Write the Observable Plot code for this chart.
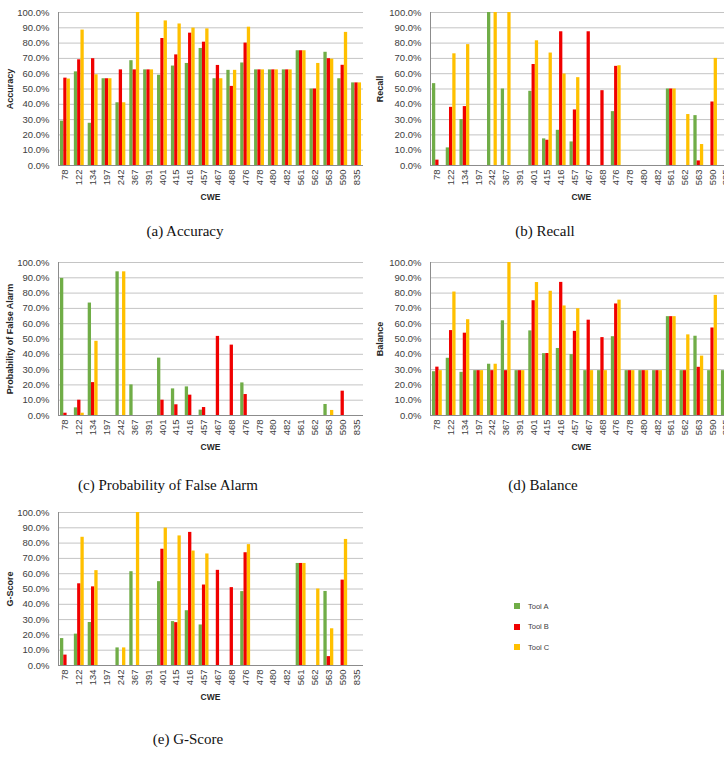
<!DOCTYPE html>
<html>
<head>
<meta charset="utf-8">
<script src="https://cdn.jsdelivr.net/npm/d3@7"></script>
<script src="https://cdn.jsdelivr.net/npm/@observablehq/plot@0.6"></script>
<style>
  body { margin: 0; background: #fff; }
  #fig { position: relative; width: 724px; height: 771px; overflow: hidden; background: #fff;
         font-family: "Liberation Sans", Arial, sans-serif; color: #404040; }
  .panel { position: absolute; }
  .panel svg { max-width: none !important; }
  .ytitle { position: absolute; font-weight: bold; font-size: 9px; white-space: nowrap; color: #262626;
            transform: translate(-50%, -50%) rotate(-90deg); }
  .xtitle { position: absolute; font-weight: bold; font-size: 8.5px; white-space: nowrap; color: #262626;
            transform: translate(-50%, -50%); }
  .caption { position: absolute; font-family: "Liberation Serif", "Times New Roman", serif; font-size: 15px;
             line-height: 15px; white-space: nowrap; color: #111; transform: translateX(-50%); }
  .legend { position: absolute; left: 514px; top: 596px; font-size: 7.5px; color: #404040; }
  .legend div { display: flex; align-items: center; height: 20.5px; }
  .legend span.sw { display: inline-block; width: 6px; height: 6px; margin-right: 8px; }
</style>
</head>
<body>
<div id="fig"></div>
<script>
// CWE categories on the x axis
const cwe = ["78","122","134","197","242","367","391","401","415","416","457","467","468","476","478","480","482","561","562","563","590","835"];
const tools = ["Tool A", "Tool B", "Tool C"];
const toolColors = ["#70AD47", "#F00000", "#FFC000"];
const yTicks = [0, 10, 20, 30, 40, 50, 60, 70, 80, 90, 100];

// Accuracy (%)
const accuracyA = [29.0, 61.2, 27.6, 56.7, 41.0, 68.5, 62.5, 59.0, 65.0, 66.7, 76.5, 56.7, 62.2, 67.0, 62.5, 62.5, 62.5, 75.0, 50.0, 74.0, 56.7, 54.0];
const accuracyB = [57.1, 69.1, 69.8, 56.7, 62.5, 62.5, 62.5, 83.0, 72.3, 86.5, 80.6, 65.4, 51.7, 80.0, 62.5, 62.5, 62.5, 75.0, 50.0, 69.8, 65.5, 54.0];
const accuracyC = [56.5, 88.5, 59.3, 56.7, 41.0, 100, 62.5, 94.5, 92.5, 89.8, 89.3, 56.7, 62.2, 90.4, 62.5, 62.5, 62.5, 75.0, 66.7, 69.5, 87.0, 54.0];

// Recall (%)
const recallA = [53.5, 11.5, 30.0, 0, 100, 50.0, 0, 48.5, 17.4, 23.0, 15.4, 0, 0, 35.2, 0, 0, 0, 50.0, 0, 32.6, 0, 0];
const recallB = [3.5, 38.0, 38.5, 0, 0, 0, 0, 66.0, 16.5, 87.4, 36.3, 87.4, 48.9, 64.8, 0, 0, 0, 50.0, 0, 3.0, 41.5, 0];
const recallC = [0, 73.0, 79.0, 0, 100, 100, 0, 81.5, 73.5, 59.8, 57.4, 0, 0, 65.2, 0, 0, 0, 50.0, 33.3, 13.7, 70.0, 0];

// Probability of false alarm (%)
const pfA = [89.6, 5.0, 73.5, 0, 93.9, 20.0, 0, 37.5, 17.4, 18.7, 3.5, 0, 0, 21.3, 0, 0, 0, 0, 0, 7.2, 0, 0];
const pfB = [1.5, 10.0, 21.5, 0, 0, 0, 0, 10.0, 7.0, 13.3, 5.2, 51.7, 46.0, 13.7, 0, 0, 0, 0, 0, 0, 15.9, 0];
const pfC = [0, 1.5, 48.5, 0, 93.9, 0, 0, 0, 0, 0, 0, 0, 0, 0, 0, 0, 0, 0, 0, 3.3, 0, 0];

// Balance (%)
const balanceA = [28.6, 37.4, 28.2, 29.3, 33.5, 61.9, 29.3, 55.3, 40.4, 43.8, 39.8, 29.3, 29.3, 51.5, 29.3, 29.3, 29.3, 64.6, 29.3, 51.8, 29.3, 29.3];
const balanceB = [31.6, 55.5, 53.8, 29.3, 29.3, 29.3, 29.3, 75.0, 40.5, 87.0, 55.0, 62.3, 50.9, 72.9, 29.3, 29.3, 29.3, 64.6, 29.3, 31.5, 57.2, 29.3];
const balanceC = [29.3, 80.7, 62.6, 29.3, 33.5, 100, 29.3, 86.9, 81.2, 71.6, 69.8, 29.3, 29.3, 75.4, 29.3, 29.3, 29.3, 64.6, 52.7, 38.8, 78.5, 29.3];

// G-Score (%)
const gscoreA = [17.6, 20.5, 28.1, 0, 11.5, 61.3, 0, 54.8, 28.7, 35.8, 26.5, 0, 0, 48.3, 0, 0, 0, 66.7, 0, 48.4, 0, 0];
const gscoreB = [6.8, 53.4, 51.4, 0, 0, 0, 0, 76.0, 28.0, 87.0, 52.6, 62.2, 50.9, 73.7, 0, 0, 0, 66.7, 0, 5.8, 55.8, 0];
const gscoreC = [0, 83.8, 62.0, 0, 11.5, 100, 0, 89.8, 84.7, 74.8, 72.9, 0, 0, 79.0, 0, 0, 0, 66.7, 50.0, 24.0, 82.4, 0];

const fig = document.getElementById("fig");

function addDiv(cls, text, x, y) {
  const d = document.createElement("div");
  d.className = cls;
  d.textContent = text;
  d.style.left = x + "px";
  d.style.top = y + "px";
  fig.appendChild(d);
  return d;
}

// One grouped bar chart: three tools side by side within each CWE band
function panel({title, caption, series, left, top, marginLeft, plotWidth, titleX, captionX}) {
  const marginTop = 12, marginBottom = 25, marginRight = 1, height = 190;
  const width = marginLeft + plotWidth + marginRight;
  const bw = plotWidth / cwe.length;
  const barW = bw * 0.238;
  const pad = (bw - 3 * barW) / 2;
  const marks = [Plot.gridY(yTicks, {stroke: "#c4c4c4", strokeOpacity: 1})];
  series.forEach((vals, k) => {
    const rows = cwe.map((c, i) => ({cwe: c, tool: tools[k], value: vals[i]}));
    marks.push(Plot.barY(rows, {
      x: "cwe", y: "value", fill: toolColors[k],
      insetLeft: pad + k * barW,
      insetRight: pad + (2 - k) * barW
    }));
  });
  marks.push(Plot.ruleY([0], {stroke: "#8c8c8c"}));
  marks.push(Plot.frame({anchor: "left", stroke: "#8c8c8c"}));

  const chart = Plot.plot({
    width, height, marginLeft, marginRight, marginTop, marginBottom,
    style: {fontFamily: "'Liberation Sans', Arial, sans-serif", fontSize: "9.5px", color: "#404040",
            background: "transparent", overflow: "visible", maxWidth: "none"},
    x: {type: "band", domain: cwe, padding: 0, round: false, tickRotate: -90, tickSize: 0, tickPadding: 4, label: null},
    y: {domain: [0, 100], ticks: yTicks, tickFormat: d => d.toFixed(1) + "%", tickSize: 0, tickPadding: 9, label: null},
    marks
  });
  const wrap = document.createElement("div");
  wrap.className = "panel";
  wrap.style.left = left + "px";
  wrap.style.top = top + "px";
  wrap.style.width = width + "px";
  wrap.appendChild(chart);
  fig.appendChild(wrap);

  const plotMidY = top + (marginTop + height - marginBottom) / 2;
  addDiv("ytitle", title, titleX, plotMidY);
  addDiv("xtitle", "CWE", left + marginLeft + plotWidth / 2, top + 197);
  addDiv("caption", caption.text, captionX, top + caption.dy);
}

const leftCol = {left: 0, marginLeft: 58, plotWidth: 305, titleX: 10};
const rightCol = {left: 365, marginLeft: 65, plotWidth: 302.7, titleX: 380};

panel({...leftCol, top: 0, title: "Accuracy", series: [accuracyA, accuracyB, accuracyC],
       caption: {text: "(a) Accuracy", dy: 224}, captionX: 185});
panel({...rightCol, top: 0, title: "Recall", series: [recallA, recallB, recallC],
       caption: {text: "(b) Recall", dy: 224}, captionX: 545});
panel({...leftCol, top: 250, title: "Probability of False Alarm", series: [pfA, pfB, pfC],
       caption: {text: "(c) Probability of False Alarm", dy: 228}, captionX: 168});
panel({...rightCol, top: 250, title: "Balance", series: [balanceA, balanceB, balanceC],
       caption: {text: "(d) Balance", dy: 228}, captionX: 543});
panel({...leftCol, top: 500, title: "G-Score", series: [gscoreA, gscoreB, gscoreC],
       caption: {text: "(e) G-Score", dy: 232}, captionX: 188});

// Legend for the three tools
const legend = document.createElement("div");
legend.className = "legend";
tools.forEach((t, k) => {
  const row = document.createElement("div");
  const sw = document.createElement("span");
  sw.className = "sw";
  sw.style.background = toolColors[k];
  row.appendChild(sw);
  row.appendChild(document.createTextNode(t));
  legend.appendChild(row);
});
fig.appendChild(legend);
</script>
</body>
</html>
